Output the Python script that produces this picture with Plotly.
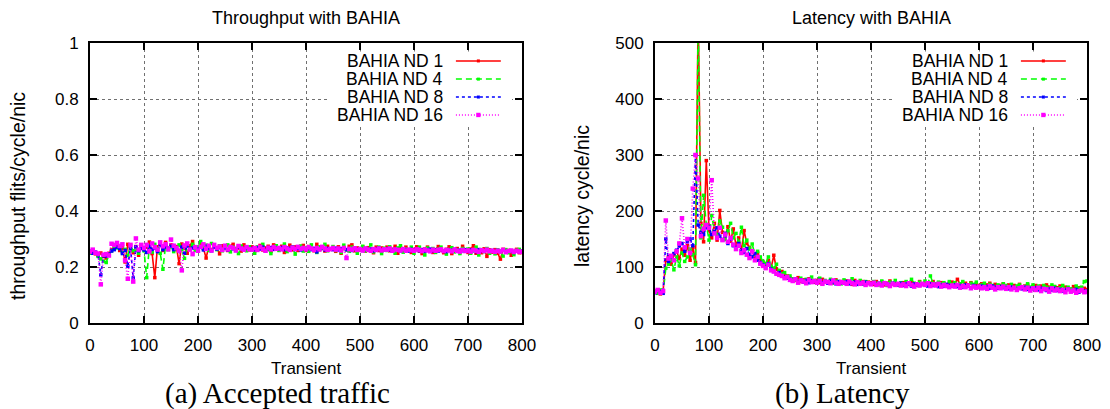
import plotly.graph_objects as go

# ---------------- data ----------------
X = list(range(0, 801, 5))

series_names = ["BAHIA ND 1", "BAHIA ND 4", "BAHIA ND 8", "BAHIA ND 16"]

thr_nd1 = [
    .252, .258, .247, .241, .250, .238, .232, .249, .262, .270,
    .274, .259, .268, .218, .281, .262, .251, .273, .242, .279,
    .263, .271, .289, .248, .162, .272, .284, .259, .288, .266,
    .279, .261, .273, .212, .282, .268, .249, .276, .291, .268,
    .258, .281, .267, .232, .274, .262, .279, .268, .247, .276,
    .271, .259, .274, .281, .262, .268, .257, .279, .266, .261,
    .272, .258, .269, .277, .261, .268, .274, .256, .279, .265,
    .262, .274, .252, .269, .278, .261, .272, .259, .268, .277,
    .259, .273, .266, .258, .281, .262, .271, .257, .274, .263,
    .268, .256, .272, .249, .269, .262, .274, .279, .258, .268,
    .261, .272, .257, .269, .263, .251, .271, .259, .268, .262,
    .271, .258, .263, .274, .249, .268, .259, .271, .262, .252,
    .263, .272, .257, .248, .264, .271, .258, .252, .262, .273,
    .259, .251, .263, .272, .248, .261, .266, .252, .274, .259,
    .252, .264, .276, .249, .262, .251, .265, .238, .261, .253,
    .262, .249, .228, .263, .254, .259, .242, .256, .263, .251,
    .252]

thr_nd4 = [
    .249, .255, .252, .238, .229, .221, .216, .243, .258, .265,
    .268, .271, .252, .263, .241, .276, .258, .262, .249, .271,
    .258, .162, .275, .253, .281, .266, .249, .192, .278, .262,
    .271, .255, .268, .279, .262, .231, .274, .265, .281, .259,
    .272, .291, .266, .278, .259, .284, .271, .262, .276, .258,
    .266, .279, .254, .271, .263, .248, .275, .266, .258, .272,
    .261, .249, .272, .266, .281, .257, .263, .248, .271, .276,
    .259, .268, .282, .255, .264, .271, .246, .268, .275, .257,
    .268, .256, .279, .263, .252, .272, .266, .281, .258, .264,
    .273, .259, .266, .252, .278, .261, .256, .271, .263, .249,
    .266, .274, .258, .263, .279, .254, .262, .271, .248, .267,
    .259, .272, .262, .249, .268, .276, .253, .264, .258, .271,
    .249, .262, .271, .256, .243, .268, .259, .266, .252, .264,
    .271, .257, .246, .263, .269, .254, .261, .248, .266, .258,
    .264, .249, .258, .271, .243, .262, .255, .266, .249, .258,
    .247, .261, .255, .239, .262, .251, .258, .244, .259, .263,
    .256]

thr_nd8 = [
    .256, .249, .253, .244, .172, .241, .239, .246, .257, .262,
    .271, .266, .248, .259, .203, .268, .161, .272, .258, .266,
    .261, .252, .274, .263, .268, .255, .279, .262, .271, .266,
    .274, .262, .269, .258, .271, .249, .276, .263, .268, .271,
    .265, .272, .261, .274, .267, .258, .271, .264, .269, .262,
    .268, .261, .272, .265, .259, .271, .266, .262, .268, .264,
    .266, .262, .269, .264, .271, .261, .266, .269, .263, .267,
    .265, .269, .262, .268, .266, .271, .263, .267, .261, .268,
    .264, .268, .262, .266, .254, .263, .269, .261, .266, .264,
    .262, .267, .261, .265, .268, .262, .264, .259, .266, .261,
    .263, .259, .266, .261, .264, .258, .263, .267, .260, .262,
    .265, .261, .259, .264, .262, .258, .265, .261, .257, .263,
    .259, .263, .258, .262, .256, .261, .264, .258, .261, .257,
    .262, .258, .255, .261, .259, .263, .256, .260, .258, .262,
    .257, .261, .259, .255, .262, .258, .256, .261, .257, .259,
    .255, .259, .256, .261, .254, .258, .256, .252, .258, .255,
    .256]

thr_nd16 = [
    .255, .262, .251, .248, .138, .244, .246, .241, .283, .279,
    .286, .275, .281, .224, .158, .279, .148, .302, .262, .279,
    .268, .279, .256, .284, .271, .262, .288, .274, .281, .263,
    .298, .276, .268, .259, .188, .277, .284, .262, .246, .271,
    .258, .272, .281, .265, .276, .259, .279, .268, .273, .261,
    .276, .263, .271, .268, .259, .275, .266, .262, .271, .264,
    .262, .268, .261, .272, .264, .258, .269, .263, .271, .265,
    .268, .263, .271, .266, .261, .269, .264, .272, .265, .268,
    .263, .271, .266, .261, .268, .263, .272, .266, .261, .264,
    .268, .262, .266, .259, .268, .232, .265, .262, .267, .261,
    .264, .259, .266, .262, .258, .264, .261, .266, .259, .263,
    .262, .266, .258, .263, .261, .259, .264, .258, .262, .260,
    .258, .263, .261, .257, .262, .259, .256, .262, .258, .261,
    .263, .257, .261, .259, .256, .262, .258, .255, .261, .257,
    .259, .255, .261, .258, .254, .260, .257, .262, .256, .258,
    .254, .258, .255, .261, .253, .257, .259, .254, .258, .255,
    .254]

lat_nd1 = [
    55, 58, 52, 57, 112, 118, 105, 122, 128, 115,
    132, 121, 138, 112, 135, 108, 560, 178, 145, 290,
    165, 152, 178, 148, 201, 162, 155, 172, 146, 168,
    138, 152, 129, 165, 142, 135, 128, 118, 125, 112,
    108, 104, 112, 98, 121, 96, 88, 92, 85, 84,
    80, 78, 76, 81, 74, 77, 72, 79, 75, 73,
    76, 72, 78, 74, 71, 75, 73, 77, 72, 74,
    71, 75, 72, 69, 76, 73, 70, 74, 71, 73,
    72, 69, 74, 70, 73, 68, 71, 75, 69, 72,
    70, 67, 72, 69, 71, 73, 68, 70, 74, 69,
    72, 68, 71, 74, 69, 67, 72, 70, 66, 71,
    73, 69, 78, 70, 67, 71, 68, 72, 66, 69,
    67, 70, 65, 68, 71, 66, 69, 64, 67, 70,
    66, 68, 63, 67, 65, 69, 64, 66, 68, 63,
    65, 67, 63, 66, 62, 68, 64, 61, 65, 63,
    66, 60, 64, 62, 59, 65, 61, 63, 58, 62,
    60]

lat_nd4 = [
    57, 53, 59, 54, 98, 105, 112, 95, 118, 102,
    125, 110, 118, 132, 122, 104, 540, 152, 228, 176,
    148, 192, 165, 158, 182, 171, 149, 165, 178, 152,
    160, 145, 171, 138, 148, 132, 141, 122, 128, 118,
    110, 106, 118, 101, 98, 105, 94, 88, 90, 82,
    84, 79, 77, 74, 80, 75, 78, 73, 82, 76,
    74, 80, 72, 76, 73, 78, 71, 75, 74, 70,
    77, 72, 74, 79, 71, 73, 76, 70, 74, 72,
    70, 74, 71, 68, 75, 72, 67, 73, 70, 76,
    68, 72, 69, 74, 70, 78, 71, 67, 73, 69,
    75, 70, 84, 71, 68, 73, 70, 72, 67, 74,
    69, 72, 67, 70, 74, 68, 66, 71, 69, 73,
    65, 68, 71, 64, 69, 67, 63, 68, 66, 70,
    67, 64, 69, 62, 66, 68, 63, 65, 70, 64,
    68, 63, 66, 61, 67, 64, 62, 68, 65, 61,
    63, 67, 60, 64, 61, 58, 66, 62, 64, 74,
    75]

lat_nd8 = [
    54, 58, 56, 53, 150, 110, 118, 124, 130, 138,
    142, 128, 145, 150, 138, 300, 175, 162, 158, 170,
    172, 158, 165, 170, 155, 148, 160, 142, 150, 138,
    135, 142, 130, 126, 133, 122, 118, 124, 112, 108,
    104, 100, 106, 96, 92, 88, 90, 84, 82, 80,
    78, 76, 79, 74, 77, 73, 76, 72, 75, 74,
    73, 76, 72, 74, 71, 75, 73, 70, 74, 72,
    71, 74, 70, 72, 73, 69, 72, 70, 73, 71,
    70, 72, 69, 71, 68, 72, 70, 67, 71, 69,
    68, 71, 67, 70, 69, 66, 70, 68, 67, 69,
    68, 66, 70, 67, 69, 65, 68, 66, 69, 67,
    66, 68, 65, 67, 64, 68, 66, 63, 67, 65,
    64, 66, 63, 65, 62, 66, 64, 62, 65, 63,
    63, 61, 64, 62, 60, 63, 61, 64, 60, 62,
    61, 63, 59, 62, 60, 58, 61, 59, 62, 58,
    60, 57, 59, 61, 56, 58, 60, 55, 58, 57,
    57]

lat_nd16 = [
    56, 59, 54, 57, 183, 115, 120, 112, 128, 142,
    187, 135, 150, 125, 240, 300, 258, 155, 168, 175,
    170, 255, 160, 152, 170, 148, 158, 145, 152, 140,
    132, 138, 125, 130, 122, 116, 128, 112, 118, 106,
    102, 98, 104, 94, 92, 88, 86, 84, 80, 82,
    77, 75, 78, 72, 76, 74, 71, 77, 73, 75,
    72, 75, 70, 74, 73, 71, 76, 72, 70, 73,
    72, 70, 74, 71, 69, 73, 70, 72, 68, 71,
    69, 72, 68, 70, 67, 71, 69, 66, 70, 68,
    70, 67, 69, 66, 71, 68, 65, 69, 67, 70,
    68, 71, 66, 69, 67, 70, 65, 68, 66, 64,
    67, 65, 68, 63, 66, 64, 67, 62, 65, 63,
    65, 62, 64, 61, 66, 63, 60, 64, 62, 65,
    61, 64, 60, 63, 59, 62, 64, 60, 63, 58,
    62, 59, 63, 57, 61, 60, 56, 62, 58, 60,
    57, 59, 55, 60, 56, 58, 54, 57, 59, 55,
    56]

throughput = [thr_nd1, thr_nd4, thr_nd8, thr_nd16]
latency = [lat_nd1, lat_nd4, lat_nd8, lat_nd16]

x_ticks = [0, 100, 200, 300, 400, 500, 600, 700, 800]

# ---------------- styles ----------------
colors = ["#ff0000", "#00ff00", "#0000ff", "#ff00ff"]
dashes = ["solid", "6px,4px", "3px,3px", "1px,2px"]
msizes = [3.5, 3.5, 3.5, 4.5]

W, H = 1110, 409
SANS = "Liberation Sans, Arial, sans-serif"
SERIF = "Liberation Serif, Times New Roman, serif"


def px(x):
    return x / W


def py(y):
    return 1 - y / H


fig = go.Figure()

for k, (xa, ya, data) in enumerate([("x", "y", throughput), ("x2", "y2", latency)]):
    for i in range(4):
        fig.add_trace(go.Scatter(
            x=X, y=data[i], xaxis=xa, yaxis=ya, mode="lines+markers",
            name=series_names[i],
            line=dict(color=colors[i], width=1.6, dash=dashes[i]),
            marker=dict(color=colors[i], size=msizes[i], symbol="square"),
            showlegend=False,
        ))

axis_common = dict(
    showgrid=True, gridcolor="#707070", griddash="dot", gridwidth=1,
    showline=True, linecolor="black", linewidth=2, mirror="allticks",
    ticks="inside", ticklen=7, tickwidth=1.5, tickcolor="black",
    tickfont=dict(family=SANS, size=17, color="black"),
    zeroline=False, fixedrange=True, automargin=False,
)

ydom = [py(323), py(43)]
fig.update_layout(
    template="none",
    width=W, height=H, margin=dict(l=0, r=0, t=0, b=0, autoexpand=False),
    paper_bgcolor="white", plot_bgcolor="white", showlegend=False,
    xaxis=dict(domain=[px(90), px(522)], range=[0, 800], tickvals=x_ticks,
               anchor="y", ticklabelstandoff=6, **axis_common),
    yaxis=dict(domain=ydom, range=[0, 1], dtick=0.2, tick0=0, anchor="x",
               ticklabelstandoff=6, **axis_common),
    xaxis2=dict(domain=[px(655), px(1087)], range=[0, 800], tickvals=x_ticks,
                anchor="y2", ticklabelstandoff=6, **axis_common),
    yaxis2=dict(domain=ydom, range=[0, 500], dtick=100, tick0=0, anchor="x2",
                ticklabelstandoff=6, **axis_common),
)

annotations = []
shapes = []

panels = [
    dict(xa="x", ya="y", cx=306, title="Throughput with BAHIA",
         ylabel="throughput flits/cycle/nic", ylx=18, caption="(a) Accepted traffic", capx=277),
    dict(xa="x2", ya="y2", cx=871, title="Latency with BAHIA",
         ylabel="latency cycle/nic", ylx=582, caption="(b) Latency", capx=842),
]

for p in panels:
    annotations.append(dict(text=p["title"], x=px(p["cx"]), y=py(18), xref="paper", yref="paper",
                            showarrow=False, xanchor="center", yanchor="middle",
                            font=dict(family=SANS, size=18, color="black")))
    annotations.append(dict(text="Transient", x=px(p["cx"]), y=py(368), xref="paper", yref="paper",
                            showarrow=False, xanchor="center", yanchor="middle",
                            font=dict(family=SANS, size=17, color="black")))
    annotations.append(dict(text=p["ylabel"], x=px(p["ylx"]), y=py(196), xref="paper", yref="paper",
                            showarrow=False, xanchor="center", yanchor="middle", textangle=-90,
                            font=dict(family=SANS, size=19.5, color="black")))
    annotations.append(dict(text=p["caption"], x=px(p["capx"]), y=py(393), xref="paper", yref="paper",
                            showarrow=False, xanchor="center", yanchor="middle",
                            font=dict(family=SERIF, size=29, color="black")))

    xd, yd = p["xa"] + " domain", p["ya"] + " domain"
    # legend background (hides grid; kept clear of frame ticks)
    shapes.append(dict(type="rect", xref=xd, yref=yd, x0=0.549, x1=0.977, y0=0.711, y1=0.970,
                       fillcolor="white", line=dict(width=0), layer="above"))
    rows = [0.936, 0.871, 0.807, 0.743]
    for i in range(4):
        annotations.append(dict(text=series_names[i], x=0.822, y=rows[i], xref=xd, yref=yd,
                                showarrow=False, xanchor="right", yanchor="middle",
                                font=dict(family=SANS, size=17.5, color="black")))
        shapes.append(dict(type="line", xref=xd, yref=yd, x0=0.847, x1=0.951, y0=rows[i], y1=rows[i],
                           line=dict(color=colors[i], width=1.5, dash=dashes[i]), layer="above"))
        hx = 0.0035 if i < 3 else 0.0050
        hy = 0.0054 if i < 3 else 0.0078
        shapes.append(dict(type="rect", xref=xd, yref=yd, x0=0.899 - hx, x1=0.899 + hx,
                           y0=rows[i] - hy, y1=rows[i] + hy, fillcolor=colors[i],
                           line=dict(width=0), layer="above"))

fig.update_layout(annotations=annotations, shapes=shapes)

fig.write_html("out.html")
